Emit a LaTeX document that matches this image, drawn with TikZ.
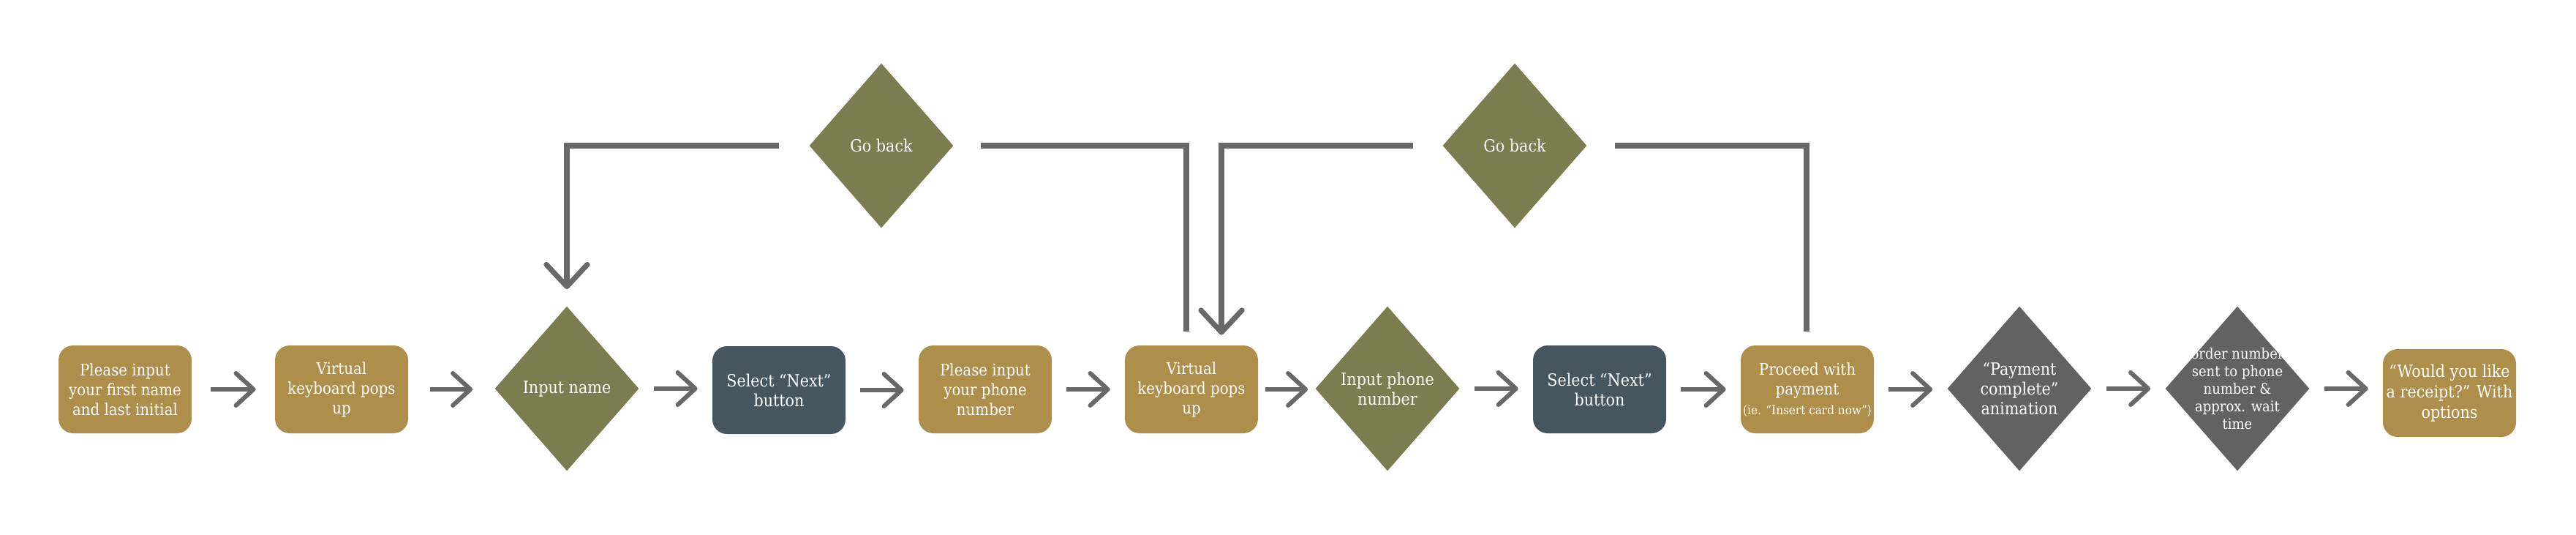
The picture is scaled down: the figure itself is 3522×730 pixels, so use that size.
\documentclass[tikz,border=0pt]{standalone}
\usepackage{fontspec}
\setmainfont{DejaVu Serif Condensed}
\usepackage{xcolor}
\usepackage{tikz}
\usetikzlibrary{arrows.meta,positioning,calc,shapes.geometric}

\definecolor{kioskgold}{HTML}{AD8E4B}
\definecolor{kioskolive}{HTML}{7B7C4F}
\definecolor{kioskslate}{HTML}{455661}
\definecolor{kioskgrey}{HTML}{626262}
\definecolor{linegrey}{HTML}{686868}

\begin{document}
\begin{tikzpicture}[x=0.5pt, y=-0.5pt,
  screen/.style={rounded corners=10pt, minimum width=91pt, minimum height=60pt,
    inner sep=1pt, align=center, text=white, font=\fontsize{11}{13.5}\selectfont},
  decide/.style={diamond, minimum width=98.5pt, minimum height=112.5pt,
    inner sep=-18pt, align=center, text=white, font=\fontsize{11.5}{13.5}\selectfont},
  hop/.style={-{Straight Barb[length=12pt, width=22pt, round]}, line width=3pt,
    draw=linegrey, shorten <=#1, shorten >=#1},
  back/.style={-{Straight Barb[length=15pt, width=28pt, round]}, line width=3.6pt,
    draw=linegrey},
  link/.style={line width=3.6pt, draw=linegrey}
]
\useasboundingbox (0,0) rectangle (3522,730);

% main row
\node[screen, fill=kioskgold] (b1) at (171,532) {Please input\\your first name\\and last initial};
\node[screen, fill=kioskgold] (b2) at (467,532) {Virtual\\keyboard pops\\up};
\node[decide, fill=kioskolive] (d1) at (775,531) {Input name};
\node[screen, fill=kioskslate, font=\fontsize{11.5}{13.5}\selectfont] (b3) at (1065,533) {Select “Next”\\button};
\node[screen, fill=kioskgold] (b4) at (1347,532) {Please input\\your phone\\number};
\node[screen, fill=kioskgold] (b5) at (1629,532) {Virtual\\keyboard pops\\up};
\node[decide, fill=kioskolive] (d2) at (1897,531) {Input phone\\number};
\node[screen, fill=kioskslate, font=\fontsize{11.5}{13.5}\selectfont] (b6) at (2187,532) {Select “Next”\\button};
\node[screen, fill=kioskgold] (b7) at (2471,532) {Proceed with\\payment\\{\fontsize{8.5}{10}\selectfont (ie. “Insert card now”)}};
\node[decide, fill=kioskgrey] (d3) at (2761,531) {“Payment\\complete”\\animation};
\node[decide, fill=kioskgrey, font=\fontsize{10}{12}\selectfont] (d4) at (3059,531) {order number\\sent to phone\\number \&\\approx. wait\\time};
\node[screen, fill=kioskgold, font=\fontsize{11.5}{14}\selectfont] (b8) at (3349,537) {“Would you like\\a receipt?” With\\options};

% go back row
\node[decide, fill=kioskolive] (g1) at (1205,199) {Go back};
\node[decide, fill=kioskolive] (g2) at (2071,199) {Go back};

\foreach \a/\b/\s in {b1/b2/13pt, b2/d1/15pt, d1/b3/10pt, b3/b4/10pt, b4/b5/10pt,
    b5/d2/5pt, d2/b6/10pt, b6/b7/10pt, b7/d3/10pt, d3/d4/10pt, d4/b8/10pt}
  \draw[hop=\s] (\a.east) -- (\a.east -| \b.west);

\draw[link] ($(b5.north)+(-7,-19)$) |- ($(g1.east)+(37,0)$);
\draw[back] ($(g1.west)+(-41,0)$) -| ($(d1.north)+(0,-23)$);
\draw[back] ($(g2.west)+(-40,0)$) -| ($(b5.north)+(41,-14)$);
\draw[link] ($(b7.north)+(-1,-19)$) |- ($(g2.east)+(38,0)$);
\end{tikzpicture}
\end{document}
